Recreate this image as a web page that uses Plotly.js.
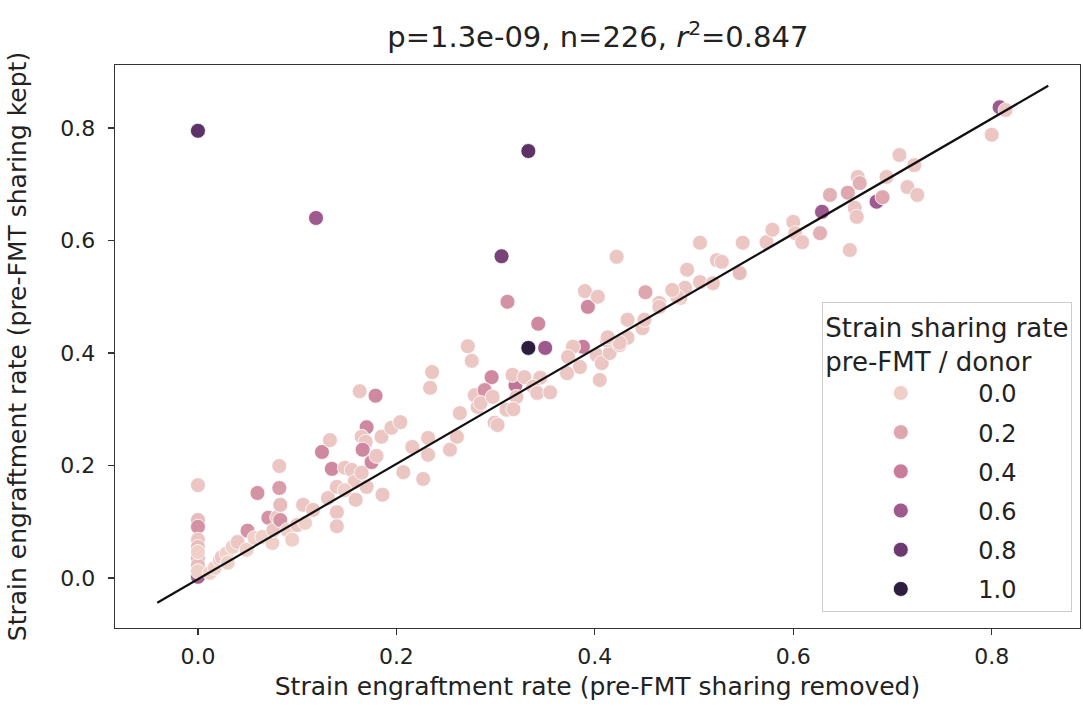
<!DOCTYPE html>
<html>
<head>
<meta charset="utf-8">
<script src="https://cdn.plot.ly/plotly-3.0.1.min.js"></script>
<style>html,body{margin:0;padding:0;background:#fff}#chart{width:1083px;height:711px}</style>
</head>
<body>
<div id="chart"></div>
<script>
// engraftment rate with pre-FMT sharing removed (x), kept (y), and pre-FMT/donor sharing rate (hue)
const xRemoved = [
 0,0,0,0,0,0,0,0,0,0,0,
 0.119,0.333,0.306,0.333,0.350,0.312,0.343,0.393,0.390,0.403,0.422,
 0.012,0.017,0.022,0.024,0.029,0.030,0.035,0.040,0.049,0.050,0.057,0.060,0.065,0.071,0.075,0.076,0.080,0.083,0.083,0.082,0.082,0.090,0.100,0.106,0.108,0.116,0.095,
 0.125,0.133,0.135,0.131,0.140,0.140,0.140,0.148,0.155,0.158,0.148,0.159,0.165,0.163,0.179,0.170,0.165,0.169,0.166,0.175,0.180,0.185,0.195,0.204,0.170,0.186,0.207,0.216,0.227,0.232,0.232,0.236,0.234,0.254,0.261,0.264,0.272,0.276,0.279,0.282,0.296,0.289,0.299,0.285,0.297,0.320,0.317,0.329,0.345,0.338,0.342,0.311,0.321,
 0.388,0.378,0.373,0.385,0.372,0.402,0.407,0.415,0.425,0.433,0.412,0.448,0.451,0.465,0.486,0.493,0.506,0.523,0.528,0.546,0.549,0.573,0.579,0.600,0.602,0.609,0.627,0.629,0.637,0.655,0.657,0.662,0.664,0.665,0.667,0.684,0.690,0.694,0.707,0.722,0.715,0.725,0.808,0.814,0.800,
 0.491,0.506,0.519,0.483,0.465,0.478,0.433,0.425,0.413,0.450,0.405,0.302,0.318,0.355
];
const yKept = [
 0.795,0.165,0.103,0.091,0.068,0.055,0.036,0.023,0.002,0.012,0.046,
 0.640,0.759,0.572,0.409,0.409,0.491,0.452,0.482,0.510,0.500,0.571,
 0.009,0.018,0.032,0.037,0.044,0.027,0.055,0.064,0.050,0.084,0.071,0.151,0.073,0.107,0.062,0.085,0.108,0.103,0.130,0.160,0.199,0.085,0.094,0.130,0.098,0.121,0.068,
 0.224,0.245,0.194,0.142,0.162,0.117,0.092,0.196,0.192,0.171,0.156,0.139,0.187,0.332,0.324,0.268,0.251,0.242,0.228,0.206,0.217,0.251,0.267,0.277,0.162,0.148,0.188,0.233,0.176,0.249,0.219,0.366,0.338,0.228,0.251,0.293,0.412,0.386,0.325,0.304,0.357,0.334,0.276,0.311,0.322,0.343,0.361,0.357,0.356,0.340,0.329,0.299,0.322,
 0.411,0.411,0.393,0.375,0.364,0.396,0.382,0.400,0.414,0.459,0.423,0.444,0.508,0.489,0.498,0.548,0.596,0.565,0.562,0.542,0.596,0.597,0.619,0.633,0.613,0.597,0.613,0.651,0.681,0.685,0.583,0.658,0.642,0.713,0.702,0.669,0.677,0.713,0.752,0.734,0.695,0.681,0.837,0.832,0.788,
 0.516,0.526,0.524,0.500,0.482,0.512,0.427,0.418,0.428,0.459,0.352,0.272,0.300,0.330
];
const sharingRate = [
 0.85,0.05,0.1,0.3,0.05,0.1,0.15,0.1,0.55,0.0,0.0,
 0.6,0.85,0.75,1.0,0.6,0.3,0.35,0.35,0.05,0.05,0.05,
 0.0,0.0,0.0,0.05,0.0,0.0,0.0,0.05,0.0,0.3,0.0,0.3,0.0,0.3,0.0,0.05,0.05,0.3,0.1,0.25,0.05,0.0,0.05,0.05,0.0,0.05,0.0,
 0.35,0.05,0.35,0.05,0.05,0.05,0.05,0.05,0.05,0.05,0.0,0.05,0.05,0.05,0.35,0.35,0.05,0.05,0.35,0.35,0.05,0.05,0.05,0.05,0.05,0.05,0.05,0.05,0.05,0.05,0.05,0.05,0.05,0.05,0.05,0.05,0.05,0.05,0.05,0.05,0.35,0.3,0.05,0.05,0.05,0.45,0.05,0.05,0.05,0.05,0.05,0.05,0.05,
 0.4,0.05,0.05,0.05,0.05,0.05,0.05,0.05,0.05,0.05,0.05,0.05,0.2,0.05,0.05,0.05,0.05,0.05,0.05,0.1,0.05,0.05,0.05,0.05,0.05,0.05,0.15,0.6,0.15,0.2,0.05,0.05,0.05,0.05,0.15,0.6,0.2,0.05,0.05,0.05,0.05,0.05,0.6,0.05,0.05,
 0.05,0.05,0.05,0.05,0.05,0.05,0.05,0.05,0.05,0.05,0.05,0.05,0.05,0.05
];
const legendLevels = ['0.0','0.2','0.4','0.6','0.8','1.0'];
const legendColors = ['#efd0c9','#dea7af','#c87e9b','#9e5a8e','#6c3a71','#2d1e3e'];
const lineX = [-0.041, 0.857];
const lineY = [-0.044, 0.875];

const colorscale = legendColors.map((c,i)=>[i/(legendColors.length-1), c]);

const traces = [];
traces.push({
  type:'scatter', mode:'markers', x:xRemoved, y:yKept, showlegend:false, hoverinfo:'skip',
  marker:{size:15, color:sharingRate, colorscale:colorscale, cmin:0, cmax:1, line:{color:'#ffffff', width:0.8}}
});
traces.push({
  type:'scatter', mode:'lines', x:lineX, y:lineY, showlegend:false, hoverinfo:'skip',
  line:{color:'#111111', width:2.2}
});
legendLevels.forEach((lab,i)=>{
  traces.push({type:'scatter', mode:'markers', x:[null], y:[null], name:lab, legendgroup:'g'+i,
    marker:{size:15, color:legendColors[i], line:{color:'#ffffff', width:0.8}}});
});

const FONT = 'DejaVu Sans';
const axisCommon = {
  showline:true, mirror:true, linecolor:'#333', linewidth:1.3, ticks:'outside', ticklen:6, tickwidth:1.2, tickcolor:'#333',
  showgrid:false, zeroline:false, tickfont:{family:FONT, size:22, color:'#222'}
};
const layout = {
  width:1083, height:711,
  margin:{l:115, r:3, t:65, b:83},
  paper_bgcolor:'#fff', plot_bgcolor:'#fff',
  font:{family:FONT, color:'#222'},
  title:{text:'p=1.3e-09, n=226, <i>r</i><sup>2</sup>=0.847', font:{family:FONT, size:29, color:'#222'}, x:0.552, xanchor:'center', xref:'container', y:0.948, yref:'container', yanchor:'middle'},
  xaxis:Object.assign({}, axisCommon, {range:[-0.0836, 0.889], tickvals:[0,0.2,0.4,0.6,0.8], ticktext:['0.0','0.2','0.4','0.6','0.8'], ticklabelstandoff:2,
    title:{text:'Strain engraftment rate (pre-FMT sharing removed)', font:{family:FONT, size:25, color:'#222'}, standoff:9}}),
  yaxis:Object.assign({}, axisCommon, {range:[-0.089, 0.912], tickvals:[0,0.2,0.4,0.6,0.8], ticktext:['0.0','0.2','0.4','0.6','0.8'], ticklabelstandoff:8,
    title:{text:'Strain engraftment rate (pre-FMT sharing kept)', font:{family:FONT, size:25, color:'#222'}, standoff:26}}),
  legend:{
    x:0.992, xanchor:'right', y:0.028, yanchor:'bottom',
    bgcolor:'rgba(255,255,255,0.85)', bordercolor:'#cccccc', borderwidth:1,
    font:{family:FONT, size:24, color:'#222'},
    title:{text:'Strain sharing rate<br>pre-FMT / donor', font:{family:FONT, size:26, color:'#222'}, side:'top'},
    tracegroupgap:5, itemwidth:145
  }
};
Plotly.newPlot('chart', traces, layout, {displayModeBar:false, staticPlot:true});
</script>
</body>
</html>
